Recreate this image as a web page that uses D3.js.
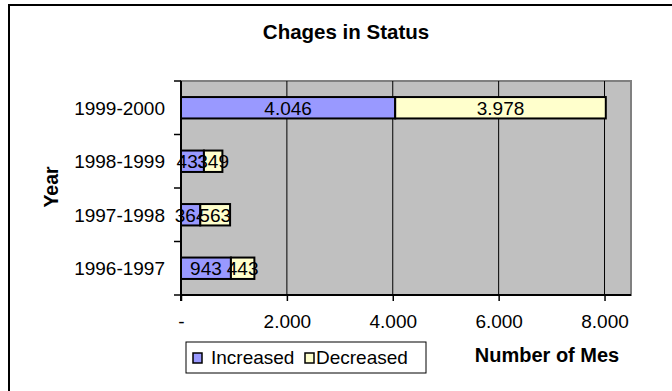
<!DOCTYPE html>
<html>
<head>
<meta charset="utf-8">
<script src="https://cdn.jsdelivr.net/npm/d3@7/dist/d3.min.js"></script>
<style>
  html, body { margin: 0; padding: 0; background: #fff; }
  svg { display: block; font-family: "Liberation Sans", Arial, sans-serif; }
</style>
</head>
<body>
<svg id="chart" width="672" height="391"></svg>
<script>
// Year ranges, top row first
const years = ["1999-2000", "1998-1999", "1997-1998", "1996-1997"];
const increased = [4046, 433, 364, 943];
const decreased = [3978, 349, 563, 443];
const seriesNames = ["Increased", "Decreased"];
const seriesColors = ["#9999ff", "#ffffcc"];
const xTicks = [0, 2000, 4000, 6000, 8000];
const xMax = 8500;

const svg = d3.select("#chart");
const plotLeft = 181, plotRight = 631, plotTop = 81, plotBottom = 295;

// number format with "." as thousands separator
const loc = d3.formatLocale({ decimal: ",", thousands: ".", grouping: [3], currency: ["", ""] });
const fmt = loc.format(",d");
const tickFmt = v => v === 0 ? "-" : fmt(v);

const x = d3.scaleLinear().domain([0, xMax]).range([plotLeft, plotRight]);
const y = d3.scaleBand().domain(years).range([plotTop, plotBottom]).padding(0);
const bw = y.bandwidth();
const barH = bw * 0.4;

// outer chart frame
svg.append("rect")
  .attr("x", 9).attr("y", 5).attr("width", 700).attr("height", 500)
  .attr("fill", "#fff").attr("stroke", "#000").attr("stroke-width", 2);

// plot area
svg.append("rect")
  .attr("x", plotLeft).attr("y", plotTop).attr("width", plotRight - plotLeft).attr("height", plotBottom - plotTop)
  .attr("fill", "#c0c0c0").attr("stroke", "#808080").attr("stroke-width", 2);

// vertical gridlines
svg.append("g").selectAll("line")
  .data(xTicks.filter(d => d > 0))
  .join("line")
  .attr("x1", d => x(d)).attr("x2", d => x(d))
  .attr("y1", plotTop).attr("y2", plotBottom)
  .attr("stroke", "#000").attr("stroke-width", 1);

// stacked bars
const stackData = years.map((yr, i) => ({ year: yr, Increased: increased[i], Decreased: decreased[i] }));
const stacked = d3.stack().keys(seriesNames)(stackData);

const layers = svg.append("g").selectAll("g")
  .data(stacked)
  .join("g")
  .attr("fill", (d, i) => seriesColors[i]);

layers.selectAll("rect")
  .data(d => d)
  .join("rect")
  .attr("x", d => x(d[0]))
  .attr("y", d => y(d.data.year) + (bw - barH) / 2)
  .attr("width", d => x(d[1]) - x(d[0]))
  .attr("height", barH)
  .attr("stroke", "#000").attr("stroke-width", 2);

// value labels centred in each segment
layers.selectAll("text")
  .data(d => d)
  .join("text")
  .attr("x", d => (x(d[0]) + x(d[1])) / 2)
  .attr("y", d => y(d.data.year) + bw / 2 + 7)
  .attr("text-anchor", "middle")
  .attr("fill", "#000")
  .attr("font-size", 19)
  .text(d => fmt(d[1] - d[0]));

// x axis
const xAxis = svg.append("g")
  .attr("transform", `translate(0,${plotBottom})`)
  .call(d3.axisBottom(x).tickValues(xTicks).tickFormat(tickFmt).tickSize(6).tickPadding(0));
xAxis.select(".domain").attr("stroke", "#000").attr("stroke-width", 2).attr("d", `M${plotLeft},0H${plotRight}`);
xAxis.selectAll(".tick line").attr("stroke", "#000").attr("stroke-width", 1.5);
xAxis.selectAll(".tick text")
  .attr("font-size", 19).attr("fill", "#000")
  .attr("font-family", "Liberation Sans, Arial, sans-serif")
  .attr("dy", null).attr("y", 33);

// y axis with ticks at band boundaries
const yAxis = svg.append("g").attr("transform", `translate(${plotLeft},0)`);
yAxis.append("line")
  .attr("x1", 0).attr("x2", 0).attr("y1", plotTop).attr("y2", plotBottom + 6)
  .attr("stroke", "#000").attr("stroke-width", 2);
yAxis.selectAll("line.tk")
  .data(years.map(d => y(d)).concat([plotBottom]))
  .join("line")
  .attr("class", "tk")
  .attr("x1", -7).attr("x2", 0)
  .attr("y1", d => d).attr("y2", d => d)
  .attr("stroke", "#000").attr("stroke-width", 1.5);
yAxis.selectAll("text")
  .data(years)
  .join("text")
  .attr("x", -16)
  .attr("y", d => y(d) + bw / 2 + 7)
  .attr("text-anchor", "end")
  .attr("font-size", 19)
  .attr("fill", "#000")
  .text(d => d);

// title
svg.append("text")
  .attr("x", 346).attr("y", 39)
  .attr("text-anchor", "middle")
  .attr("font-size", 20.5).attr("font-weight", "bold")
  .text("Chages in Status");

// axis titles
svg.append("text")
  .attr("transform", "translate(58,187) rotate(-90)")
  .attr("text-anchor", "middle")
  .attr("font-size", 19.5).attr("font-weight", "bold")
  .text("Year");

svg.append("text")
  .attr("x", 547).attr("y", 362)
  .attr("text-anchor", "middle")
  .attr("font-size", 20).attr("font-weight", "bold")
  .text("Number of Mes");

// legend
const legend = svg.append("g");
legend.append("rect")
  .attr("x", 186).attr("y", 342).attr("width", 240).attr("height", 31)
  .attr("fill", "#fff").attr("stroke", "#000").attr("stroke-width", 1);
const legendX = [193, 305];
const items = legend.selectAll("g.item")
  .data(seriesNames)
  .join("g")
  .attr("class", "item")
  .attr("transform", (d, i) => `translate(${legendX[i]},0)`);
items.append("rect")
  .attr("x", 0).attr("y", 353).attr("width", 9).attr("height", 10)
  .attr("fill", (d, i) => seriesColors[i])
  .attr("stroke", "#000").attr("stroke-width", 1.5);
items.append("text")
  .attr("x", (d, i) => i === 0 ? 18 : 11)
  .attr("y", 364)
  .attr("font-size", 19)
  .attr("fill", "#000")
  .text(d => d);
</script>
</body>
</html>
